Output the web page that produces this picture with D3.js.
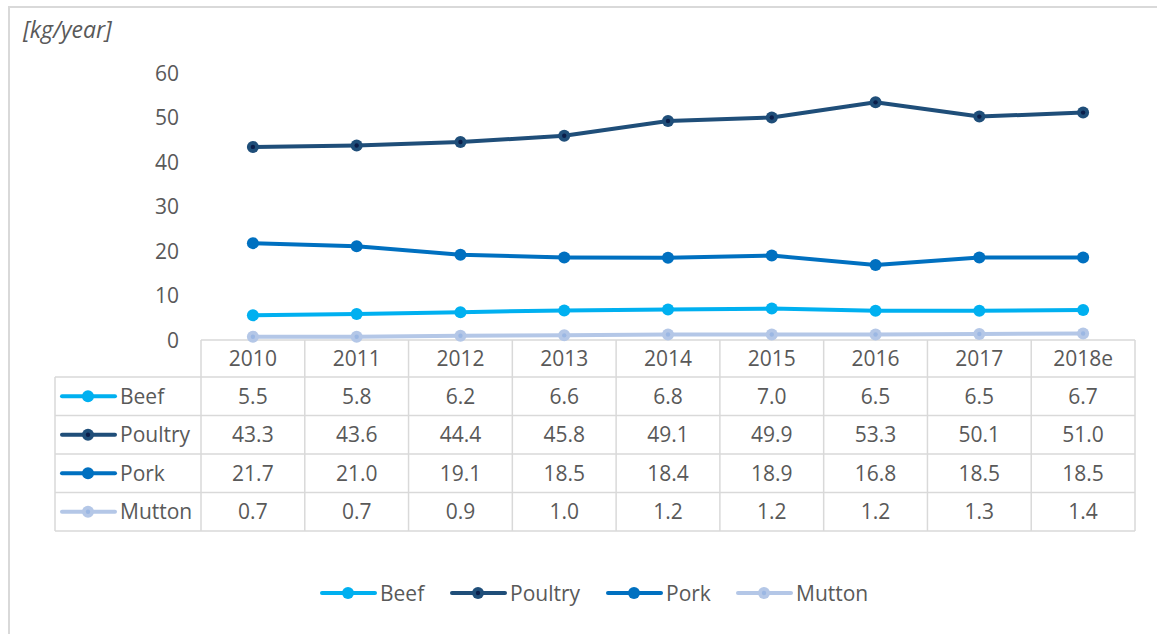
<!DOCTYPE html>
<html>
<head>
<meta charset="utf-8">
<script src="https://cdn.jsdelivr.net/npm/d3@7"></script>
<style>
  html, body { margin: 0; padding: 0; background: #fff; }
  svg { display: block; }
  text { font-family: "Open Sans", sans-serif; fill: #595959; }
</style>
</head>
<body>
<svg id="chart" width="1157" height="634"></svg>
<script>
// Per-capita meat consumption, kg/year
const years = ["2010", "2011", "2012", "2013", "2014", "2015", "2016", "2017", "2018e"];
const beef    = [5.5, 5.8, 6.2, 6.6, 6.8, 7.0, 6.5, 6.5, 6.7];
const poultry = [43.3, 43.6, 44.4, 45.8, 49.1, 49.9, 53.3, 50.1, 51.0];
const pork    = [21.7, 21.0, 19.1, 18.5, 18.4, 18.9, 16.8, 18.5, 18.5];
const mutton  = [0.7, 0.7, 0.9, 1.0, 1.2, 1.2, 1.2, 1.3, 1.4];
const yTicks  = [0, 10, 20, 30, 40, 50, 60];
const unitLabel = "[kg/year]";

const series = [
  { name: "Beef",    values: beef,    color: "#00B0F0", fill: "#00B0F0", dot: null },
  { name: "Poultry", values: poultry, color: "#1F4E79", fill: "#1F4E79", dot: "#0B1E4A" },
  { name: "Pork",    values: pork,    color: "#0070C0", fill: "#0070C0", dot: null },
  { name: "Mutton",  values: mutton,  color: "#B4C7E7", fill: "#B4C7E7", dot: "#9BB7E3" }
];

const svg = d3.select("#chart");
const gridColor = "#D9D9D9";

// outer frame (open on the right and bottom)
svg.append("path")
  .attr("d", "M1157,7 L9,7 L9,634")
  .attr("fill", "none")
  .attr("stroke", gridColor)
  .attr("stroke-width", 2);

const x = d3.scaleBand().domain(years).range([201, 1135]).padding(0);
const y = d3.scaleLinear().domain([0, 60]).range([339.8, 72.5]);

// unit label
svg.append("text")
  .attr("x", 23).attr("y", 38)
  .attr("font-size", 23)
  .attr("font-style", "italic")
  .text(unitLabel);

// y axis labels only
const yAxis = d3.axisLeft(y).tickValues(yTicks).tickSize(0).tickPadding(0);
const gy = svg.append("g").attr("transform", "translate(179,0)").call(yAxis);
gy.select(".domain").remove();
gy.selectAll("text")
  .attr("font-size", 21)
  .attr("font-family", "'Open Sans', sans-serif")
  .attr("fill", "#595959")
  .attr("dy", "0.36em");

// data table
const tableTop = 340, headerH = 37, rowH = 38.5;
const labelLeft = 55;
const tableRight = x.range()[1];
const rowsTop = tableTop + headerH;
const tableBottom = rowsTop + rowH * series.length;
const tbl = svg.append("g")
  .attr("stroke", gridColor).attr("stroke-width", 1.5).attr("fill", "none");

// horizontal lines
tbl.append("line").attr("x1", x.range()[0]).attr("x2", tableRight)
  .attr("y1", tableTop).attr("y2", tableTop);
for (let i = 0; i <= series.length; i++) {
  const yy = rowsTop + i * rowH;
  tbl.append("line").attr("x1", labelLeft).attr("x2", tableRight)
    .attr("y1", yy).attr("y2", yy);
}
// vertical lines
tbl.append("line").attr("x1", labelLeft).attr("x2", labelLeft)
  .attr("y1", rowsTop).attr("y2", tableBottom);
years.forEach(yr => {
  tbl.append("line").attr("x1", x(yr)).attr("x2", x(yr))
    .attr("y1", tableTop).attr("y2", tableBottom);
});
tbl.append("line").attr("x1", tableRight).attr("x2", tableRight)
  .attr("y1", tableTop).attr("y2", tableBottom);

// header cells
svg.append("g").selectAll("text").data(years).join("text")
  .attr("x", d => x(d) + x.bandwidth() / 2)
  .attr("y", tableTop + headerH / 2)
  .attr("dy", "0.36em")
  .attr("text-anchor", "middle")
  .attr("font-size", 21)
  .text(d => d);

// legend key: line with marker
function drawKey(g, s, cx, cy) {
  g.append("line")
    .attr("x1", cx - 26).attr("x2", cx + 27)
    .attr("y1", cy).attr("y2", cy)
    .attr("stroke", s.color).attr("stroke-width", 4)
    .attr("stroke-linecap", "round");
  g.append("circle").attr("cx", cx).attr("cy", cy).attr("r", 6)
    .attr("fill", s.fill);
  if (s.dot) g.append("circle").attr("cx", cx).attr("cy", cy).attr("r", 2.2)
    .attr("fill", s.dot);
}

// table rows
series.forEach((s, i) => {
  const cy = rowsTop + i * rowH + rowH / 2;
  const g = svg.append("g");
  drawKey(g, s, 88, cy);
  g.append("text").attr("x", 120).attr("y", cy).attr("dy", "0.36em")
    .attr("font-size", 21).text(s.name);
  g.selectAll("text.val").data(s.values).join("text")
    .attr("class", "val")
    .attr("x", (d, j) => x(years[j]) + x.bandwidth() / 2)
    .attr("y", cy).attr("dy", "0.36em")
    .attr("text-anchor", "middle")
    .attr("font-size", 21)
    .text(d => d.toFixed(1));
});

// lines and markers (drawn in reverse so Beef sits on top)
const line = d3.line()
  .x((d, j) => x(years[j]) + x.bandwidth() / 2)
  .y(d => y(d));

[...series].reverse().forEach(s => {
  const g = svg.append("g");
  g.append("path").datum(s.values)
    .attr("d", line)
    .attr("fill", "none")
    .attr("stroke", s.color)
    .attr("stroke-width", 4)
    .attr("stroke-linejoin", "round");
  g.selectAll("circle.m").data(s.values).join("circle")
    .attr("class", "m")
    .attr("cx", (d, j) => x(years[j]) + x.bandwidth() / 2)
    .attr("cy", d => y(d))
    .attr("r", 6)
    .attr("fill", s.fill);
  if (s.dot) {
    g.selectAll("circle.d").data(s.values).join("circle")
      .attr("class", "d")
      .attr("cx", (d, j) => x(years[j]) + x.bandwidth() / 2)
      .attr("cy", d => y(d))
      .attr("r", 2.2)
      .attr("fill", s.dot);
  }
});

// bottom legend
const legendX = [348, 478, 634, 764];
series.forEach((s, i) => {
  const g = svg.append("g");
  drawKey(g, s, legendX[i], 593);
  g.append("text").attr("x", legendX[i] + 32).attr("y", 593).attr("dy", "0.36em")
    .attr("font-size", 21).text(s.name);
});
</script>
</body>
</html>
